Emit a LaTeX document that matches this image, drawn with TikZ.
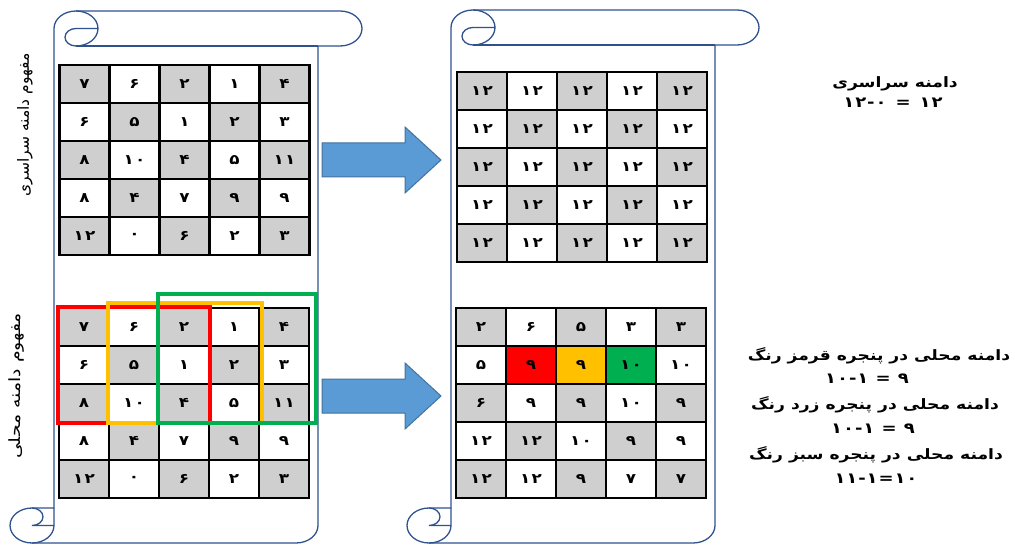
\documentclass[tikz,border=0pt]{standalone}
\usepackage{fontspec}
\TeXXeTstate=1
\newfontfamily\arabicfont[Script=Arabic,FakeStretch=1.2]{DejaVu Sans}
\newfontfamily\arabicplain[Script=Arabic]{DejaVu Sans}
\newfontfamily\digitfont[Script=Arabic,FakeStretch=1.2,LetterSpace=8]{DejaVu Sans}
\newfontfamily\numfont[Script=Arabic,FakeStretch=1.2,LetterSpace=6]{DejaVu Sans}
\definecolor{scrollblue}{RGB}{47,82,143}
\definecolor{arrowfill}{RGB}{91,155,213}
\definecolor{arrowline}{RGB}{65,113,156}
\definecolor{cellgray}{RGB}{208,207,207}
\definecolor{winred}{RGB}{255,0,0}
\definecolor{winyellow}{RGB}{255,192,0}
\definecolor{wingreen}{RGB}{0,176,80}
\tikzset{
  cell/.style={rectangle, draw=black, line width=2.3pt, minimum width=50pt,
    minimum height=38pt, inner sep=0pt, font=\digitfont\bfseries\fontsize{14}{16}\selectfont},
  scrollline/.style={draw=scrollblue, line width=1.3pt},
  blockarrow/.style={fill=arrowfill, draw=arrowline, line width=1pt},
  rtext/.style={inner sep=0pt, font=\arabicfont\bfseries\fontsize{14.3}{16}\selectfont},
  ntext/.style={inner sep=0pt, font=\numfont\bfseries\fontsize{15}{17}\selectfont},
  vlabel/.style={inner sep=0pt, rotate=90, font=\arabicplain\fontsize{15.5}{17}\selectfont},
  win/.style={line width=3.5pt},
  D-2-2/.style={fill=winred},
  D-2-3/.style={fill=winyellow},
  D-2-4/.style={fill=wingreen},
}
% scroll: #1 = left x, #2 = top y, #3 = right x, #4 = bottom y
\newcommand\drawscroll[4]{%
  \pgfmathsetmacro\xc{#1+44}\pgfmathsetmacro\xth{#1+66}\pgfmathsetmacro\xf{#1+88}%
  \pgfmathsetmacro\xh{#1+22}\pgfmathsetmacro\xsix{#3-44}\pgfmathsetmacro\xsev{#3-22}%
  \pgfmathsetmacro\yh{#2+17.5}\pgfmathsetmacro\yc{#2+35}%
  \pgfmathsetmacro\ythr{#4-35}\pgfmathsetmacro\yfour{#4-17.5}%
  \draw[scrollline, fill=white] (\xc,\ythr) -- (\xc,\yh)
    arc[start angle=180, delta angle=90, x radius=22, y radius=17.5]
    -- (\xsev,#2)
    arc[start angle=270, delta angle=180, x radius=22, y radius=17.5]
    -- (\xsix,\yc) -- (\xsix,\yfour)
    arc[start angle=0, delta angle=90, x radius=22, y radius=17.5]
    -- (\xh,#4)
    arc[start angle=90, delta angle=180, x radius=22, y radius=17.5]
    -- cycle;
  \draw[scrollline] (\xth,#2)
    arc[start angle=270, delta angle=180, x radius=22, y radius=17.5]
    arc[start angle=90, delta angle=180, x radius=11, y radius=8.75]
    -- (\xf,\yh);
  \draw[scrollline] (\xsix,\yc) -- (\xth,\yc);
  \draw[scrollline] (\xh,\ythr)
    arc[start angle=270, delta angle=180, x radius=11, y radius=8.75]
    -- (\xc,\yfour);
  \draw[scrollline] (\xh,#4)
    arc[start angle=90, delta angle=-90, x radius=22, y radius=17.5]
    -- (\xc,\ythr);
}
% grid: #1 name, #2 x0, #3 y0, #4 rows
\newcommand\cellgrid[4]{%
  \foreach \rowvals [count=\r] in {#4} {
    \foreach \v [count=\c] in \rowvals {
      \pgfmathtruncatemacro\parity{mod(\r+\c,2)}
      \ifnum\parity=0 \def\cf{cellgray}\else\def\cf{white}\fi
      \node[cell, fill=\cf, #1-\r-\c/.try] (#1-\r-\c) at ({#2+(\c-0.5)*50},{#3+(\r-0.5)*38}) {\v};
    }
  }
}
\begin{document}
\begin{tikzpicture}[x=1pt, y=-1pt]
\useasboundingbox (0,0) rectangle (1015,545);
\drawscroll{10}{11}{362}{543}
\drawscroll{407}{10}{759}{543}

\cellgrid{A}{59.5}{65}{{۷,۶,۲,۱,۴},{۶,۵,۱,۲,۳},{۸,۱۰,۴,۵,۱۱},{۸,۴,۷,۹,۹},{۱۲,۰,۶,۲,۳}}
\cellgrid{B}{59}{308}{{۷,۶,۲,۱,۴},{۶,۵,۱,۲,۳},{۸,۱۰,۴,۵,۱۱},{۸,۴,۷,۹,۹},{۱۲,۰,۶,۲,۳}}
\cellgrid{C}{457}{72}{{۱۲,۱۲,۱۲,۱۲,۱۲},{۱۲,۱۲,۱۲,۱۲,۱۲},{۱۲,۱۲,۱۲,۱۲,۱۲},{۱۲,۱۲,۱۲,۱۲,۱۲},{۱۲,۱۲,۱۲,۱۲,۱۲}}
\cellgrid{D}{456}{308}{{۲,۶,۵,۳,۳},{۵,۹,۹,۱۰,۱۰},{۶,۹,۹,۱۰,۹},{۱۲,۱۲,۱۰,۹,۹},{۱۲,۱۲,۹,۷,۷}}

\draw[win, draw=winred, line width=4pt] (B-1-1.north west) rectangle (B-3-3.south east);
\draw[win, draw=winyellow] ([yshift=4pt]B-1-2.north west) rectangle ([xshift=2pt]B-3-4.south east);
\draw[win, draw=wingreen] ([yshift=13pt]B-1-3.north west) rectangle ([xshift=6pt]B-3-5.south east);

\draw[blockarrow] (322,143) -- (405,143) -- (405,127) -- (441,160) -- (405,193) -- (405,177) -- (322,177) -- cycle;
\draw[blockarrow] (322,379) -- (405,379) -- (405,363) -- (441,396) -- (405,429) -- (405,413) -- (322,413) -- cycle;

\node[vlabel] (v1) at (25,125) {\beginR مفهوم دامنه سراسری\endR};
\node[vlabel] (v2) at (17,386) {\scalebox{1.22}[1]{\beginR مفهوم دامنه محلی\endR}};

\node[rtext] (t1) at (895,84) {\beginR دامنه سراسری\endR};
\node[ntext] (t2) at (893,103) {\beginR ۱۲\hspace{9pt}=\hspace{9pt}۱۲-۰\endR};
\node[rtext] (t3) at (879,356) {\beginR دامنه محلی در پنجره قرمز رنگ\endR};
\node[ntext] (t4) at (867,379) {\beginR ۹ = ۱۰-۱\endR};
\node[rtext] (t5) at (875,405) {\beginR دامنه محلی در پنجره زرد رنگ\endR};
\node[ntext] (t6) at (873,429) {\beginR ۹ = ۱۰-۱\endR};
\node[rtext] (t7) at (876,455) {\beginR دامنه محلی در پنجره سبز رنگ\endR};
\node[ntext] (t8) at (876,479) {\beginR ۱۰=۱۱-۱\endR};
\end{tikzpicture}
\end{document}
